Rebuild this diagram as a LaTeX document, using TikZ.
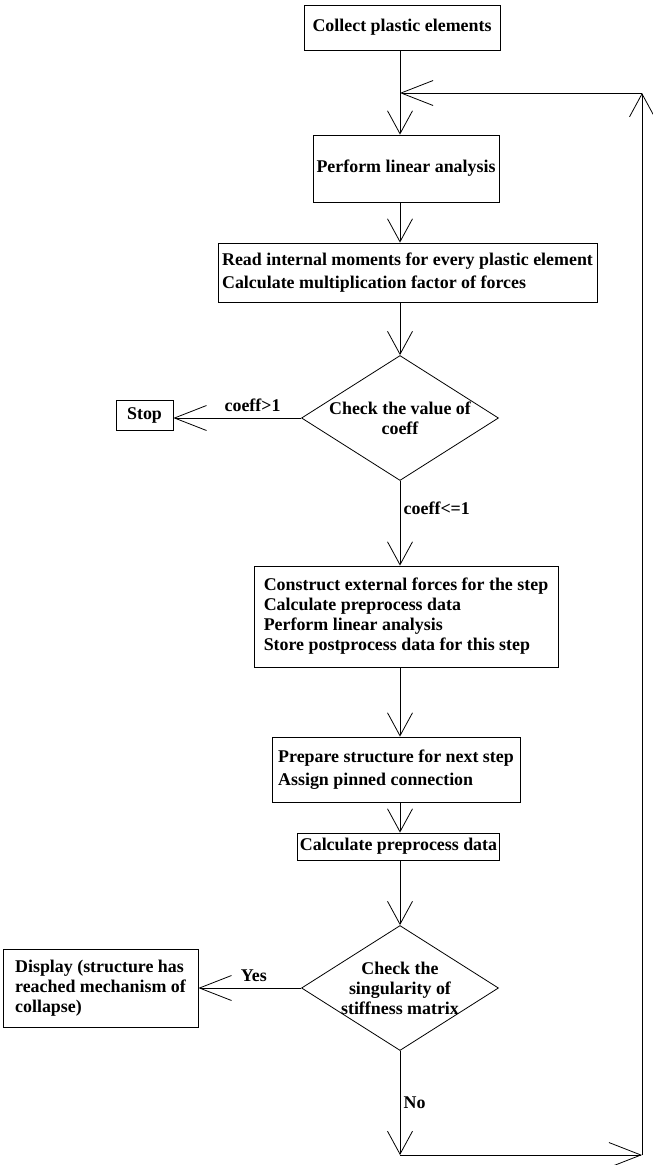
\documentclass[tikz,border=0pt]{standalone}
\usepackage{fontspec}
\setmainfont{Liberation Serif}
\usetikzlibrary{positioning,shapes.geometric,arrows.meta}

\begin{document}
\begin{tikzpicture}[
      x=1pt, y=-1pt,
      line width=0.8pt,
      font=\fontsize{17.9}{20}\selectfont\bfseries,
      box/.style={draw, rectangle, inner sep=2pt, align=center},
      decision/.style={draw, diamond, aspect=1.576, inner sep=-10pt, minimum width=197pt, minimum height=125pt, align=center},
      vline/.style={-{Straight Barb[length=23pt,width=25pt]}},
      hline/.style={-{Straight Barb[length=32pt,width=25pt]}}
    ]
    \useasboundingbox (0,0) rectangle (653,1165);

    % Main column of steps
    \node[box, minimum width=196pt, minimum height=45pt] (collect) at (402,27.5) {Collect plastic elements};
    \node[box, minimum width=186pt, minimum height=67pt] (linear) at (406,168.5) {Perform linear analysis};
    \node[box, align=left, minimum width=379pt, minimum height=59pt] (moments) at (407.5,272.5)
      {Read internal moments for every plastic element\\[3pt]
       Calculate multiplication factor of forces};
    \node[decision] (coeff) at (400,418) {Check the value of\\coeff};
    \node[box, minimum width=57pt, minimum height=30pt] (stop) at (144.5,415) {Stop};
    \node[box, align=left, minimum width=304pt, minimum height=101pt] (external) at (406,616.5)
      {Construct external forces for the step\\
       Calculate preprocess data\\
       Perform linear analysis\\
       Store postprocess data for this step};
    \node[box, align=left, minimum width=248pt, minimum height=65pt] (prepare) at (396,769.5)
      {Prepare structure for next step\\[3pt]
       Assign pinned connection};
    \node[box, minimum width=197pt, minimum height=27pt] (preproc) at (398.5,846.5) {Calculate preprocess data};
    \node[decision] (singular) at (400,988) {Check the\\singularity of\\stiffness matrix};
    \node[box, align=left, minimum width=195pt, minimum height=78pt] (display) at (100.5,988)
      {Display (structure has\\reached mechanism of\\collapse)};

    % Loop corners
    \coordinate (spine) at (400,0);
    \coordinate (loopbl) at (400,1155);
    \coordinate (loopbr) at (642,1155);
    \coordinate (looptr) at (642,93);
    \coordinate (loopin) at (400,93);

    % Arrows
    \draw[vline] (spine |- collect.south) -- (spine |- linear.north);
    \draw[vline] (spine |- linear.south) -- (spine |- moments.north);
    \draw[vline] (spine |- moments.south) -- (coeff.north);
    \draw[hline] (coeff.west) -- node[pos=0.38, above=3pt]{coeff>1} (coeff.west -| stop.east);
    \draw[vline] (coeff.south) -- node[pos=0.32, right=0pt]{coeff<=1} (spine |- external.north);
    \draw[vline] (spine |- external.south) -- (spine |- prepare.north);
    \draw[vline] (spine |- prepare.south) -- (spine |- preproc.north);
    \draw[vline] (spine |- preproc.south) -- (singular.north);
    \draw[hline] (singular.west) -- node[pos=0.46, above=3pt]{Yes} (display.east);
    \draw[vline] (singular.south) -- node[right=0pt]{No} (loopbl);
    \draw[hline] (loopbl) -- (loopbr);
    \draw[vline] (loopbr) -- (looptr);
    \draw[hline] (looptr) -- (loopin);

  \end{tikzpicture}
\end{document}
